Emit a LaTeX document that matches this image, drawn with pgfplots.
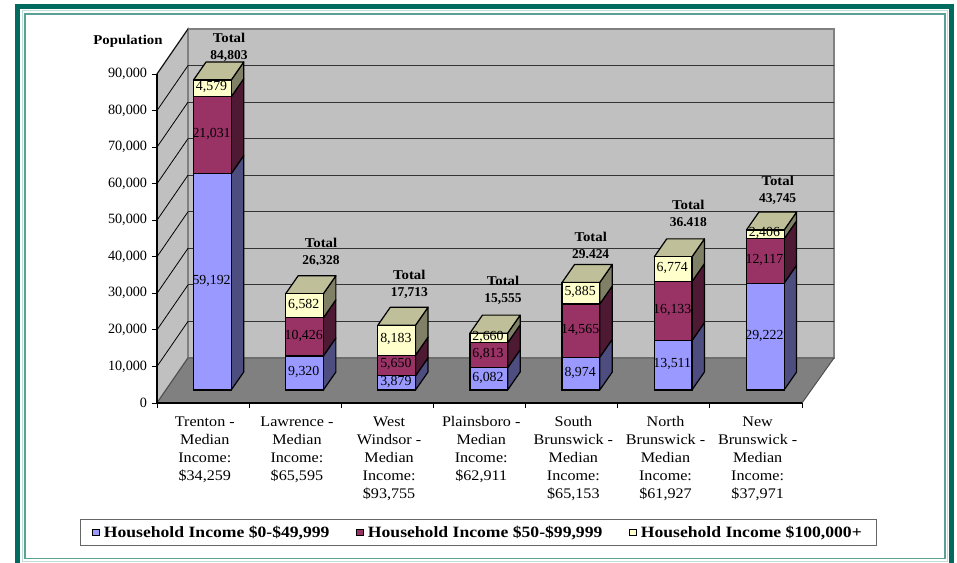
\documentclass[border=0pt]{standalone}
\usepackage{fontspec}
\setmainfont{Liberation Serif}
\usepackage{pgfplots}
\usepackage{pgfplotstable}
\pgfplotsset{compat=1.18}
\newfontface\legfont[FakeStretch=1.12]{Liberation Serif Bold}
\newfontface\wideb[FakeStretch=1.1]{Liberation Serif Bold}
\newfontface\widereg[FakeStretch=1.1]{Liberation Serif}
\definecolor{cblue}{HTML}{9999FF}
\definecolor{cpurple}{HTML}{993366}
\definecolor{ccream}{HTML}{FFFFCC}
\definecolor{sblue}{HTML}{4D4D80}
\definecolor{spurple}{HTML}{4D1933}
\definecolor{scream}{HTML}{808066}
\definecolor{tcream}{HTML}{BFBF99}
\definecolor{wallc}{HTML}{C0C0C0}
\definecolor{floorc}{HTML}{808080}
\definecolor{framedark}{HTML}{006B5E}
\definecolor{framemid}{HTML}{5AA095}
\definecolor{framepale}{HTML}{BFE0DA}
\newcommand\regfont{\fontsize{10.65}{13.5}\selectfont}
\newcommand\catfont{\widereg\fontsize{11}{13.5}\selectfont}
\newcommand\segfont{\fontsize{10.4}{13}\selectfont}
\newcommand\boldfont{\bfseries\fontsize{10.1}{12.75}\selectfont}
\newcommand\boldwide{\wideb\fontsize{10.1}{12.75}\selectfont}
\newcommand\fmt[1]{\pgfmathprintnumber[1000 sep={,},assume math mode=true,precision=0]{#1}}
\pgfplotstableread{
pos  low   mid   high
0.5  59192 21031 4579
1.5  9320  10426 6582
2.5  3879  5650  8183
3.5  6082  6813  2660
4.5  8974  14565 5885
5.5  13511 16133 6774
6.5  29222 12117 2406
}\incometable
% side face of one segment: category, from, to, colour
\newcommand\sideface[4]{%
  \pgfmathsetmacro\xa{#1+0.5+0.2046}%
  \pgfmathsetmacro\xb{#1+0.5+0.2046+0.1357}%
  \edef\tmp{\noexpand\addplot[fill=#4,draw=black,line width=0.9pt,line join=round] coordinates
    {(\xa,#2)(\xb,\the\numexpr#2+4924\relax)(\xb,\the\numexpr#3+4924\relax)(\xa,#3)(\xa,#2)};}%
  \tmp}
\newcommand\topface[2]{%
  \pgfmathsetmacro\xa{#1+0.5-0.2046}%
  \pgfmathsetmacro\xb{#1+0.5+0.2046}%
  \pgfmathsetmacro\xc{#1+0.5-0.2046+0.1357}%
  \pgfmathsetmacro\xd{#1+0.5+0.2046+0.1357}%
  \edef\tmp{\noexpand\addplot[fill=tcream,draw=black,line width=0.9pt,line join=round] coordinates
    {(\xa,#2)(\xc,\the\numexpr#2+4924\relax)(\xd,\the\numexpr#2+4924\relax)(\xb,#2)(\xa,#2)};}%
  \tmp}
\newcommand\onebar[4]{%
  \sideface{#1}{0}{#2}{sblue}%
  \sideface{#1}{#2}{\the\numexpr#2+#3\relax}{spurple}%
  \sideface{#1}{\the\numexpr#2+#3\relax}{\the\numexpr#2+#3+#4\relax}{scream}%
  \topface{#1}{\the\numexpr#2+#3+#4\relax}}
% value label at the middle of a segment
\newcommand\seglab[3]{%
  \pgfmathsetmacro\xa{#1+0.5}%
  \edef\tmp{\noexpand\node[font=\noexpand\segfont,inner sep=0pt,yshift=0.8pt,xshift=-0.6pt] at (axis cs:\xa,\the\numexpr#2+#3/2\relax) {\noexpand\fmt{#3}};}%
  \tmp}
\newcommand\barlabs[4]{%
  \seglab{#1}{0}{#2}%
  \seglab{#1}{#2}{#3}%
  \seglab{#1}{\the\numexpr#2+#3\relax}{#4}}
\newcommand\backline[1]{%
  \edef\tmp{\noexpand\addplot[color=black!80,line width=0.8pt] coordinates {(0.3364,\the\numexpr#1+12310\relax)(7.3474,\the\numexpr#1+12310\relax)};
  \noexpand\addplot[color=black,line width=0.6pt] coordinates {(0,#1)(0.3364,\the\numexpr#1+12310\relax)};}%
  \tmp}
\newcommand\totlab[4]{% x y text clip-y
  \begin{scope}
    \clip (#1-40,#2-30) rectangle (#1+40,#4);
    \node[font=\boldfont,align=center,inner sep=0pt] at (#1,#2) {{\boldwide Total}\\#3};
  \end{scope}}
\begin{document}
\begin{tikzpicture}[x=0.75pt,y=0.75pt]
\useasboundingbox (0,0) rectangle (957,563);
% frame
\begin{scope}[shift={(0,563)},yscale=-1]
  \draw[framedark,line width=3.75pt] (17.5,6.5) rectangle (951.5,566);
  \draw[framepale,line width=0.75pt] (22,11) rectangle (947.5,562);
  \draw[framemid,line width=1.35pt] (25,14) rectangle (945,558.5);
\end{scope}
% walls, floor, axis
\begin{axis}[
  at={(117.75pt,120pt)},anchor=origin,
  scale only axis,width=483.75pt,height=246.75pt,
  xmin=0,xmax=7,ymin=0,ymax=90000,clip=false,
  axis on top,
  axis x line*=bottom,axis y line*=left,
  axis line style={-,black,line width=0.9pt},
  tick align=outside,major tick length=3.9pt,
  tick style={black,line width=0.7pt},
  xtick={0,1,2,3,4,5,6,7},
  x tick label as interval=true,
  xticklabels={{Trenton -\\Median\\Income:\\\$34,259},
    {Lawrence -\\Median\\Income:\\\$65,595},
    {West\\Windsor -\\Median\\Income:\\\$93,755},
    {Plainsboro -\\Median\\Income:\\\$62,911},
    {South\\Brunswick -\\Median\\Income:\\\$65,153},
    {North\\Brunswick -\\Median\\Income:\\\$61,927},
    {New\\Brunswick -\\Median\\Income:\\\$37,971}},
  xticklabel style={align=center,font=\catfont,anchor=north,yshift=-2.75pt,xshift=1.3pt},
  ytick={0,10000,20000,30000,40000,50000,60000,70000,80000,90000},
  scaled y ticks=false,
  yticklabel style={font=\regfont,/pgf/number format/.cd,1000 sep={,},assume math mode=true},
]
\addplot[fill=wallc,draw=floorc,line width=1.1pt] coordinates {(0,0)(0,90000)(0.3364,102310)(0.3364,12310)(0,0)};
\addplot[fill=wallc,draw=floorc,line width=1.1pt] coordinates {(0.3364,12310)(0.3364,102310)(7.3474,102310)(7.3474,12310)(0.3364,12310)};
\backline{10000}\backline{20000}\backline{30000}\backline{40000}
\backline{50000}\backline{60000}\backline{70000}\backline{80000}
\addplot[color=black,line width=0.6pt] coordinates {(0,90000)(0.3364,102310)};
\addplot[fill=floorc,draw=black!70,line width=0.7pt] coordinates {(0,0)(7,0)(7.3474,12310)(0.3364,12310)(0,0)};
\end{axis}
% bar sides and tops
\begin{axis}[
  at={(124.725pt,129.75pt)},anchor=origin,
  scale only axis,width=483.75pt,height=246.75pt,
  xmin=0,xmax=7,ymin=0,ymax=90000,clip=false,hide axis,
]
\onebar{0}{59192}{21031}{4579}
\onebar{1}{9320}{10426}{6582}
\onebar{2}{3879}{5650}{8183}
\onebar{3}{6082}{6813}{2660}
\onebar{4}{8974}{14565}{5885}
\onebar{5}{13511}{16133}{6774}
\onebar{6}{29222}{12117}{2406}
\end{axis}
% bar fronts, legend
\begin{axis}[
  at={(124.725pt,129.75pt)},anchor=origin,
  scale only axis,width=483.75pt,height=246.75pt,
  xmin=0,xmax=7,ymin=0,ymax=90000,clip=false,hide axis,
  ybar stacked,bar width=28.3pt,
  every axis plot/.append style={draw=black,line width=0.9pt},
  legend columns=3,
  legend image code/.code={\draw[#1,line width=0.6pt] (0pt,-2.4pt) rectangle (4.8pt,2.4pt);\path[draw=none,fill=none] (0pt,0pt) -- (6.3pt,0pt);},
  legend style={at={(0.484,-0.4331)},anchor=center,draw=black!60,line width=1pt,
    font=\legfont\fontsize{11.8}{13}\selectfont,
    inner xsep=9pt,inner ysep=2.5pt,
    /tikz/every even column/.append style={column sep=18.2pt}},
]
\addplot[fill=cblue] table[x=pos,y=low] {\incometable};
\addplot[fill=cpurple] table[x=pos,y=mid] {\incometable};
\addplot[fill=ccream] table[x=pos,y=high] {\incometable};
\legend{{Household Income \$0-\$49,999},{Household Income \$50-\$99,999},{Household Income \$100,000+}}
\end{axis}
% values on the bars
\begin{axis}[
  at={(124.725pt,129.75pt)},anchor=origin,
  scale only axis,width=483.75pt,height=246.75pt,
  xmin=0,xmax=7,ymin=0,ymax=90000,clip=false,hide axis,
]
\barlabs{0}{59192}{21031}{4579}
\barlabs{1}{9320}{10426}{6582}
\barlabs{2}{3879}{5650}{8183}
\barlabs{3}{6082}{6813}{2660}
\barlabs{4}{8974}{14565}{5885}
\barlabs{5}{13511}{16133}{6774}
\barlabs{6}{29222}{12117}{2406}
\end{axis}
% titles and totals, in reference pixels
\begin{scope}[shift={(0,563)},yscale=-1]
  \node[font=\boldwide] at (128,41) {Population};
  \totlab{229}{47}{84,803}{70}
  \totlab{321}{252.5}{26,328}{265}
  \totlab{409.3}{284.5}{17,713}{310}
  \totlab{503}{290.5}{15,555}{315}
  \totlab{590.7}{246.5}{29,424}{258}
  \totlab{688.3}{214}{36,418}{226}
  \totlab{777.7}{190}{43,745}{215}
\end{scope}
\end{tikzpicture}
\end{document}
